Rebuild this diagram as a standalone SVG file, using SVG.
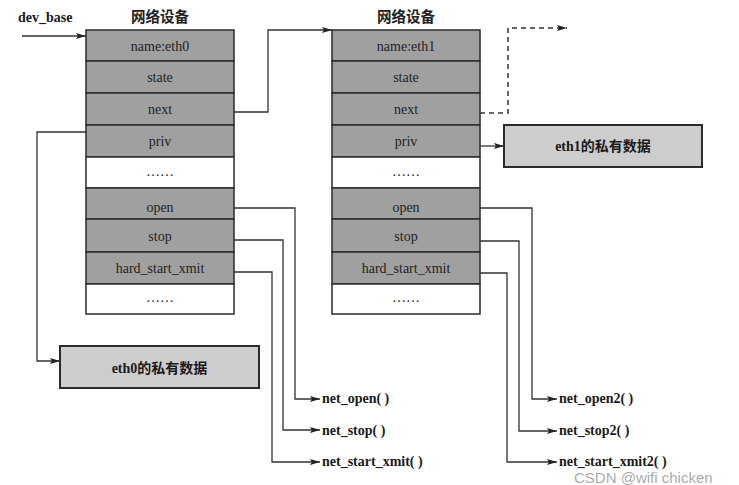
<svg xmlns="http://www.w3.org/2000/svg" width="739" height="485" viewBox="0 0 739 485">
<style>
.row{fill:#a0a0a0;stroke:#2b2b2b;stroke-width:1.5}
.blank{fill:#ffffff;stroke:#2b2b2b;stroke-width:1.5}
.lbl{font-family:"Liberation Serif","Times New Roman",serif;font-size:14px;fill:#1e1e1e;text-anchor:middle}
.title{font-family:"Noto Sans CJK SC","Noto Sans",sans-serif;font-weight:700;font-size:14.5px;fill:#222;text-anchor:middle}
.bold{font-family:"Liberation Serif","Times New Roman","Noto Sans CJK SC",serif;font-weight:700;font-size:14px;fill:#1a1a1a}
.priv{fill:#cdcdcd;stroke:#2b2b2b;stroke-width:2}
.ln{fill:none;stroke:#333;stroke-width:1.3}
.dash{fill:none;stroke:#333;stroke-width:1.5;stroke-dasharray:5 4}
</style>
<defs>
<marker id="ah" viewBox="0 0 10 6" refX="10" refY="3" markerWidth="10" markerHeight="6" markerUnits="userSpaceOnUse" orient="auto">
<path d="M0,0 L10,3 L0,6 L2,3 Z" fill="#222"/>
</marker>
</defs>
<rect width="739" height="485" fill="#ffffff"/>

<text class="bold" x="18" y="22" font-size="14.5">dev_base</text>

<g id="dev0">
<text class="title" x="160" y="22">网络设备</text>
<rect class="row" x="86" y="30" width="148" height="31"/>
<rect class="row" x="86" y="61" width="148" height="32"/>
<rect class="row" x="86" y="93" width="148" height="32"/>
<rect class="row" x="86" y="125" width="148" height="32"/>
<rect class="blank" x="86" y="157" width="148" height="31"/>
<rect class="row" x="86" y="188" width="148" height="31"/>
<rect class="row" x="86" y="219" width="148" height="33"/>
<rect class="row" x="86" y="252" width="148" height="32"/>
<rect class="blank" x="86" y="284" width="148" height="30"/>
<text class="lbl" x="160" y="51">name:eth0</text>
<text class="lbl" x="160" y="82">state</text>
<text class="lbl" x="160" y="114">next</text>
<text class="lbl" x="160" y="146">priv</text>
<text class="lbl" x="160" y="176">……</text>
<text class="lbl" x="160" y="212">open</text>
<text class="lbl" x="160" y="241">stop</text>
<text class="lbl" x="160" y="273">hard_start_xmit</text>
<text class="lbl" x="160" y="302">……</text>
</g>

<g id="dev1">
<text class="title" x="406" y="22">网络设备</text>
<rect class="row" x="332" y="30" width="148" height="31"/>
<rect class="row" x="332" y="61" width="148" height="32"/>
<rect class="row" x="332" y="93" width="148" height="32"/>
<rect class="row" x="332" y="125" width="148" height="32"/>
<rect class="blank" x="332" y="157" width="148" height="31"/>
<rect class="row" x="332" y="188" width="148" height="31"/>
<rect class="row" x="332" y="219" width="148" height="33"/>
<rect class="row" x="332" y="252" width="148" height="32"/>
<rect class="blank" x="332" y="284" width="148" height="30"/>
<text class="lbl" x="406" y="51">name:eth1</text>
<text class="lbl" x="406" y="82">state</text>
<text class="lbl" x="406" y="114">next</text>
<text class="lbl" x="406" y="146">priv</text>
<text class="lbl" x="406" y="176">……</text>
<text class="lbl" x="406" y="212">open</text>
<text class="lbl" x="406" y="241">stop</text>
<text class="lbl" x="406" y="273">hard_start_xmit</text>
<text class="lbl" x="406" y="302">……</text>
</g>

<g id="priv0">
<rect class="priv" x="60" y="346" width="199" height="42"/>
<text class="bold" x="159.5" y="373" text-anchor="middle">eth0的私有数据</text>
</g>

<g id="priv1">
<rect class="priv" x="504" y="125" width="198" height="42"/>
<text class="bold" x="603" y="151" text-anchor="middle">eth1的私有数据</text>
</g>

<g id="funcs">
<text class="bold" x="322" y="403">net_open( )</text>
<text class="bold" x="322" y="435">net_stop( )</text>
<text class="bold" x="322" y="466">net_start_xmit( )</text>
<text class="bold" x="559" y="403">net_open2( )</text>
<text class="bold" x="559" y="435">net_stop2( )</text>
<text class="bold" x="559" y="466">net_start_xmit2( )</text>
</g>

<g id="connectors">
<path class="ln" d="M22,36 H86" marker-end="url(#ah)"/>
<path class="ln" d="M234,112 H268 V30 H332" marker-end="url(#ah)"/>
<path class="dash" d="M480,113 H508 V28 H567" marker-end="url(#ah)"/>
<path class="ln" d="M480,146 H504" marker-end="url(#ah)"/>
<path class="ln" d="M86,132 H37 V361 H60" marker-end="url(#ah)"/>
<path class="ln" d="M234,208 H295 V399 H320" marker-end="url(#ah)"/>
<path class="ln" d="M234,240 H283 V430 H320" marker-end="url(#ah)"/>
<path class="ln" d="M234,272 H272 V462 H320" marker-end="url(#ah)"/>
<path class="ln" d="M480,208 H532 V399 H557" marker-end="url(#ah)"/>
<path class="ln" d="M480,241 H519 V431 H557" marker-end="url(#ah)"/>
<path class="ln" d="M480,273 H507 V462 H557" marker-end="url(#ah)"/>
</g>

<text x="574" y="483" font-family="Liberation Sans,Arial,sans-serif" font-size="15" fill="#9a9a9a" fill-opacity="0.85">CSDN @wifi chicken</text>
</svg>
